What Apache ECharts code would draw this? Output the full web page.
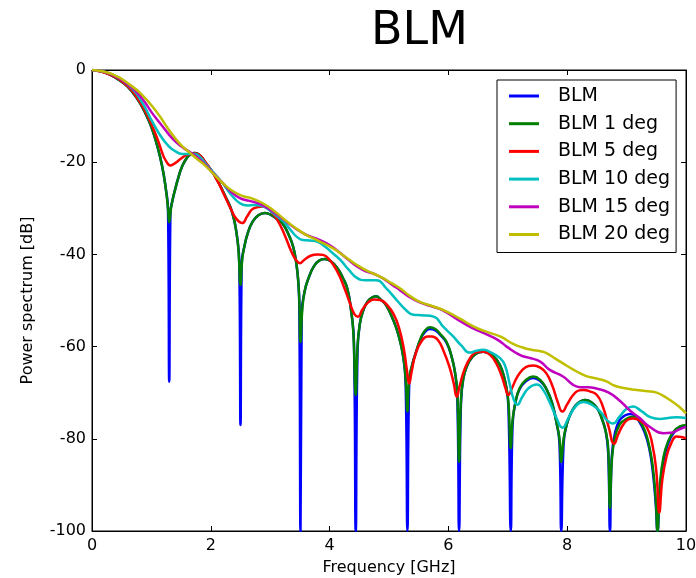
<!DOCTYPE html>
<html>
<head>
<meta charset="utf-8">
<script src="https://cdn.jsdelivr.net/npm/echarts@6/dist/echarts.min.js"></script>
<style>html,body{margin:0;padding:0;background:#fff}#c{width:696px;height:578px}</style>
</head>
<body>
<div id="c"></div>
<script>
// ---- data (frequency GHz, power dB) ----
const xTicks = [0, 2, 4, 6, 8, 10];
const yTicks = [-100, -80, -60, -40, -20, 0];
const seriesNames = ['BLM', 'BLM 1 deg', 'BLM 5 deg', 'BLM 10 deg', 'BLM 15 deg', 'BLM 20 deg'];

const blm = [[0,0],[0.15,-0.3],[0.3,-1.0],[0.45,-2.1],[0.6,-3.6],[0.75,-6.0],[0.9,-9.4],[1.0,-12.4],[1.1,-16.5],[1.18,-20.8],[1.24,-25.5],[1.28,-30.5],[1.30,-67.6],[1.32,-31],[1.36,-28],[1.40,-25.9],[1.45,-23.5],[1.52,-20.8],[1.60,-19.0],[1.66,-18.3],[1.73,-18.0],[1.82,-18.6],[1.91,-20.1],[2.02,-22.0],[2.13,-24.4],[2.24,-27.3],[2.36,-30.9],[2.44,-36],[2.48,-42],[2.50,-77],[2.52,-42],[2.57,-38],[2.62,-35.5],[2.70,-33],[2.80,-31.5],[2.91,-31.0],[3.02,-31.5],[3.14,-32.6],[3.22,-33.5],[3.32,-36],[3.39,-38.5],[3.44,-42],[3.47,-45.5],[3.49,-51],[3.51,-100],[3.53,-53],[3.58,-48],[3.65,-45],[3.74,-42.5],[3.83,-41.3],[3.92,-41.0],[4.02,-41.5],[4.12,-42.8],[4.22,-45],[4.30,-47.5],[4.36,-52],[4.41,-59],[4.44,-100],[4.47,-61],[4.51,-55],[4.57,-52],[4.64,-50.2],[4.71,-49.4],[4.78,-49.1],[4.86,-49.8],[4.95,-51],[5.07,-54.2],[5.16,-57.5],[5.24,-62.2],[5.28,-68],[5.31,-100],[5.34,-68],[5.39,-64],[5.46,-61],[5.53,-58.5],[5.60,-56.9],[5.69,-56.2],[5.78,-56.5],[5.88,-57.7],[5.97,-59.2],[6.05,-62],[6.11,-65.5],[6.15,-71],[6.18,-100],[6.21,-73],[6.25,-67],[6.32,-64],[6.40,-62.3],[6.50,-61.3],[6.59,-61.1],[6.70,-61.5],[6.81,-62.8],[6.90,-65],[6.97,-68.5],[7.01,-73],[7.05,-100],[7.08,-77],[7.13,-72],[7.20,-69.2],[7.30,-67.6],[7.43,-66.8],[7.55,-67.5],[7.65,-69.2],[7.74,-72],[7.82,-76.5],[7.87,-81],[7.90,-100],[7.94,-81],[7.99,-77],[8.05,-74.8],[8.14,-72.8],[8.22,-71.9],[8.30,-71.6],[8.40,-72],[8.50,-73.3],[8.58,-75.5],[8.65,-78.5],[8.69,-83],[8.72,-100],[8.75,-84],[8.80,-79],[8.88,-76],[8.98,-74.9],[9.06,-74.6],[9.12,-74.8],[9.20,-76],[9.30,-78.5],[9.38,-82],[9.44,-87],[9.49,-94],[9.52,-100],[9.56,-91],[9.62,-85],[9.70,-81],[9.80,-78.6],[9.90,-77.7],[10,-77.4]];

const blm1 = [[0,0],[0.15,-0.3],[0.3,-1.0],[0.45,-2.1],[0.6,-3.6],[0.75,-6.0],[0.9,-9.4],[1.0,-12.4],[1.1,-16.5],[1.18,-20.8],[1.24,-25.5],[1.28,-30],[1.30,-33],[1.33,-30],[1.36,-28],[1.40,-25.9],[1.45,-23.5],[1.52,-20.8],[1.60,-19.0],[1.66,-18.3],[1.73,-18.0],[1.82,-18.6],[1.91,-20.1],[2.02,-22.0],[2.13,-24.4],[2.24,-27.3],[2.36,-30.9],[2.44,-36],[2.47,-40],[2.50,-46.6],[2.53,-41],[2.57,-38],[2.62,-35.5],[2.70,-33],[2.80,-31.5],[2.91,-31.0],[3.02,-31.5],[3.14,-32.6],[3.22,-33.5],[3.32,-36],[3.39,-38.5],[3.44,-42],[3.47,-45.5],[3.49,-50],[3.51,-59],[3.54,-52],[3.58,-48],[3.65,-45],[3.74,-42.5],[3.83,-41.3],[3.92,-41.0],[4.02,-41.5],[4.12,-42.8],[4.22,-45],[4.30,-47.5],[4.36,-52],[4.40,-57],[4.44,-70.5],[4.47,-60],[4.51,-55],[4.57,-52],[4.64,-50.2],[4.71,-49.4],[4.78,-49.1],[4.86,-49.8],[4.95,-51],[5.07,-54.2],[5.16,-57.5],[5.24,-62.2],[5.28,-67],[5.31,-74],[5.34,-67],[5.39,-64],[5.46,-61],[5.53,-58.3],[5.60,-56.6],[5.69,-55.8],[5.78,-56.2],[5.88,-57.5],[5.97,-59],[6.05,-62],[6.11,-65.5],[6.15,-70],[6.18,-85],[6.21,-72],[6.25,-67],[6.32,-64],[6.40,-62.3],[6.50,-61.3],[6.59,-61.1],[6.70,-61.5],[6.81,-62.8],[6.90,-65],[6.97,-68.5],[7.01,-72],[7.05,-82],[7.08,-76],[7.13,-72],[7.20,-69],[7.30,-67.3],[7.43,-66.5],[7.55,-67.3],[7.65,-69.2],[7.74,-72],[7.82,-76.5],[7.87,-80],[7.90,-85],[7.94,-80],[7.99,-77],[8.05,-74.8],[8.14,-72.8],[8.22,-71.9],[8.30,-71.6],[8.40,-72],[8.50,-73.3],[8.58,-75.5],[8.65,-78.5],[8.69,-82],[8.72,-95],[8.75,-85],[8.80,-80],[8.88,-77],[8.98,-75.8],[9.06,-75.3],[9.12,-75.2],[9.20,-75.8],[9.30,-78],[9.38,-81.5],[9.44,-86],[9.49,-93],[9.52,-100],[9.56,-90],[9.62,-84],[9.70,-80.5],[9.80,-78.3],[9.90,-77.3],[10,-77.0]];

const blm5 = [[0,0],[0.3,-1.0],[0.6,-3.5],[0.8,-6.8],[0.95,-10.3],[1.05,-13.3],[1.12,-15.6],[1.18,-17.9],[1.24,-19.6],[1.32,-20.7],[1.40,-20.2],[1.50,-19.2],[1.60,-18.4],[1.74,-18.1],[1.83,-18.7],[1.91,-20.0],[2.02,-22],[2.13,-24.5],[2.24,-27.5],[2.34,-30.2],[2.43,-32.3],[2.53,-33.2],[2.61,-31.8],[2.72,-30.0],[2.88,-29.6],[3.0,-30.5],[3.12,-32.5],[3.25,-36],[3.36,-39.5],[3.44,-41.3],[3.50,-41.9],[3.57,-41.2],[3.68,-40.3],[3.80,-40.0],[3.89,-40.1],[4.00,-41.2],[4.12,-43.5],[4.24,-47],[4.34,-50.5],[4.42,-53],[4.48,-53.5],[4.55,-52],[4.65,-50.4],[4.75,-49.8],[4.85,-49.9],[4.97,-51],[5.08,-53],[5.17,-56],[5.25,-60.5],[5.30,-65],[5.34,-68],[5.38,-65.5],[5.45,-61.5],[5.55,-58.8],[5.65,-57.8],[5.72,-57.8],[5.82,-58.5],[5.92,-61],[6.02,-64.5],[6.09,-68],[6.14,-70.9],[6.19,-68.5],[6.27,-65],[6.38,-62.2],[6.48,-61.2],[6.59,-61.1],[6.70,-61.8],[6.80,-63.5],[6.90,-66.5],[6.96,-69],[7.01,-70.5],[7.07,-69],[7.15,-66.8],[7.25,-65],[7.35,-64.2],[7.43,-64.1],[7.55,-64.6],[7.65,-65.8],[7.75,-68.5],[7.84,-72],[7.92,-74.1],[8.00,-72.5],[8.10,-70.5],[8.20,-69.5],[8.27,-69.4],[8.38,-69.7],[8.50,-70.5],[8.60,-73],[8.70,-77.5],[8.79,-81.1],[8.86,-79],[8.95,-76.8],[9.03,-75.8],[9.11,-75.6],[9.22,-76],[9.34,-77.5],[9.43,-81],[9.50,-87],[9.55,-96],[9.60,-89],[9.67,-84],[9.75,-81],[9.84,-79.5],[9.92,-79.6],[10,-79.9]];

const blm10 = [[0,0],[0.34,-1.0],[0.67,-4.0],[0.85,-7.2],[1.01,-11.1],[1.15,-14.2],[1.29,-16.5],[1.40,-17.6],[1.52,-18.2],[1.62,-18.2],[1.73,-18.2],[1.82,-18.9],[1.91,-20.3],[2.05,-22.3],[2.19,-24.4],[2.34,-27.0],[2.49,-28.9],[2.62,-29.4],[2.72,-29.3],[2.83,-29.4],[3.0,-30.5],[3.12,-31.8],[3.22,-32.8],[3.35,-34.8],[3.45,-36.2],[3.55,-36.9],[3.67,-37.0],[3.80,-37.3],[3.92,-38.3],[4.05,-39.7],[4.18,-41.2],[4.32,-43.3],[4.46,-45.1],[4.60,-45.6],[4.79,-45.6],[4.95,-47.3],[5.13,-49.9],[5.28,-52],[5.41,-53.1],[5.55,-53.2],[5.75,-53.5],[5.92,-55.8],[6.08,-57.8],[6.22,-59.8],[6.36,-61.3],[6.47,-60.9],[6.59,-60.7],[6.72,-61.3],[6.87,-62.5],[6.95,-64],[7.03,-68],[7.10,-71.5],[7.16,-72.6],[7.24,-71],[7.35,-69],[7.49,-68.2],[7.60,-69.5],[7.72,-72.5],[7.82,-75.5],[7.92,-77.6],[8.02,-75.5],[8.14,-73],[8.27,-72],[8.40,-72.5],[8.55,-74],[8.67,-76],[8.77,-76.7],[8.88,-75.2],[9.00,-73.5],[9.11,-73],[9.25,-74],[9.40,-75.3],[9.56,-75.7],[9.70,-75.5],[9.85,-75.3],[10,-75.5]];

const blm15 = [[0,0],[0.34,-1.0],[0.67,-3.8],[0.85,-6.3],[1.01,-9.3],[1.15,-11.6],[1.29,-13.9],[1.42,-15.7],[1.55,-17.0],[1.66,-17.9],[1.75,-18.7],[1.91,-20.6],[2.05,-22.5],[2.19,-24.4],[2.34,-26.4],[2.49,-27.8],[2.65,-28.4],[2.83,-29.1],[3.0,-30.3],[3.22,-32.4],[3.45,-34.6],[3.62,-35.8],[3.78,-36.6],[3.95,-37.6],[4.12,-39.1],[4.30,-41.0],[4.46,-42.6],[4.60,-43.6],[4.74,-44.2],[4.90,-45.2],[5.05,-46.6],[5.19,-47.8],[5.35,-49.3],[5.52,-50.4],[5.70,-51.2],[5.85,-51.8],[5.97,-52.6],[6.15,-54.1],[6.35,-55.6],[6.53,-56.7],[6.70,-57.7],[6.85,-58.7],[6.98,-60.0],[7.20,-61.8],[7.35,-62.4],[7.54,-63.2],[7.70,-65.0],[7.93,-66.5],[8.10,-68.3],[8.22,-68.8],[8.35,-68.8],[8.49,-69.1],[8.70,-70.0],[8.89,-71.8],[9.05,-73.8],[9.22,-75.5],[9.40,-77.5],[9.62,-78.8],[9.75,-78.7],[9.88,-78.0],[10,-77.4]];

const blm20 = [[0,0],[0.34,-0.9],[0.67,-3.5],[0.85,-5.5],[1.01,-7.8],[1.15,-10.2],[1.29,-12.9],[1.45,-15.6],[1.55,-16.9],[1.66,-18.1],[1.78,-19.4],[1.91,-20.8],[2.05,-22.6],[2.19,-24.4],[2.36,-26.2],[2.53,-27.3],[2.70,-27.9],[2.86,-28.8],[3.05,-30.4],[3.22,-32.2],[3.42,-34.2],[3.61,-35.8],[3.82,-37.1],[4.06,-38.7],[4.25,-40.4],[4.46,-42.3],[4.65,-43.7],[4.85,-44.8],[5.05,-46.3],[5.19,-47.4],[5.35,-49.0],[5.52,-50.3],[5.75,-51.3],[5.97,-52.4],[6.2,-54.0],[6.42,-55.6],[6.60,-56.6],[6.87,-57.8],[7.09,-59.4],[7.25,-60.2],[7.40,-60.7],[7.55,-61.0],[7.65,-61.4],[7.80,-62.6],[8.00,-64.2],[8.16,-65.4],[8.32,-66.4],[8.49,-66.9],[8.65,-67.5],[8.80,-68.5],[8.95,-69.0],[9.10,-69.3],[9.28,-69.6],[9.45,-69.8],[9.58,-70.4],[9.73,-71.6],[9.88,-73.0],[10,-74.5]];

const seriesData = [blm, blm1, blm5, blm10, blm15, blm20];
const colors = ['#0000ff', '#008000', '#ff0000', '#00bfbf', '#bf00bf', '#bfbf00'];

const FONT = 'DejaVu Sans';
const chart = echarts.init(document.getElementById('c'), null, {renderer: 'canvas'});

const baseAxis = {
  type: 'value',
  axisLine: {show: true, onZero: false, lineStyle: {color: '#000', width: 1}},
  axisTick: {show: true, inside: true, length: 5, lineStyle: {color: '#000', width: 1}},
  splitLine: {show: false},
  minorTick: {show: false}
};

chart.setOption({
  animation: false,
  backgroundColor: '#fff',
  title: {
    text: 'BLM', left: 366, top: 4,
    textStyle: {fontFamily: FONT, fontSize: 46, fontWeight: 'normal', color: '#000'}
  },
  grid: {left: 92, right: 10, top: 70, bottom: 47, show: true, borderColor: '#000', borderWidth: 1,
         containLabel: false, outerBoundsMode: 'none'},
  legend: {
    orient: 'vertical', left: 497, top: 80,
    data: seriesNames.map(n => ({name: n, icon: 'rect'})),
    itemWidth: 30, itemHeight: 3, itemGap: 7.7,
    padding: [6, 6, 8, 12],
    borderColor: '#000', borderWidth: 1, backgroundColor: '#fff',
    textStyle: {fontFamily: FONT, fontSize: 19, color: '#000', lineHeight: 20, padding: [0, 0, 0, 14]}
  },
  xAxis: [
    Object.assign({}, baseAxis, {
      position: 'bottom', min: xTicks[0], max: xTicks[xTicks.length - 1], interval: 2,
      name: 'Frequency [GHz]', nameLocation: 'middle', nameGap: 29,
      nameTextStyle: {fontFamily: FONT, fontSize: 16, color: '#000'},
      axisLabel: {fontFamily: FONT, fontSize: 16, color: '#000', margin: 7}
    }),
    Object.assign({}, baseAxis, {
      position: 'top', min: xTicks[0], max: xTicks[xTicks.length - 1], interval: 2,
      axisLabel: {show: false}
    })
  ],
  yAxis: [
    Object.assign({}, baseAxis, {
      position: 'left', min: yTicks[0], max: yTicks[yTicks.length - 1], interval: 20,
      name: 'Power spectrum [dB]', nameLocation: 'middle', nameGap: 56, nameRotate: 90,
      nameTextStyle: {fontFamily: FONT, fontSize: 16, color: '#000'},
      axisLabel: {fontFamily: FONT, fontSize: 16, color: '#000', margin: 6}
    }),
    Object.assign({}, baseAxis, {
      position: 'right', min: yTicks[0], max: yTicks[yTicks.length - 1], interval: 20,
      axisLabel: {show: false}
    })
  ],
  series: seriesNames.map((n, i) => ({
    name: n, type: 'line', data: seriesData[i],
    xAxisIndex: 0, yAxisIndex: 0,
    showSymbol: false, symbol: 'none',
    smooth: 0.5, clip: true,
    color: colors[i],
    lineStyle: {color: colors[i], width: 2.5},
    z: 2 + i
  }))
});
</script>
</body>
</html>
